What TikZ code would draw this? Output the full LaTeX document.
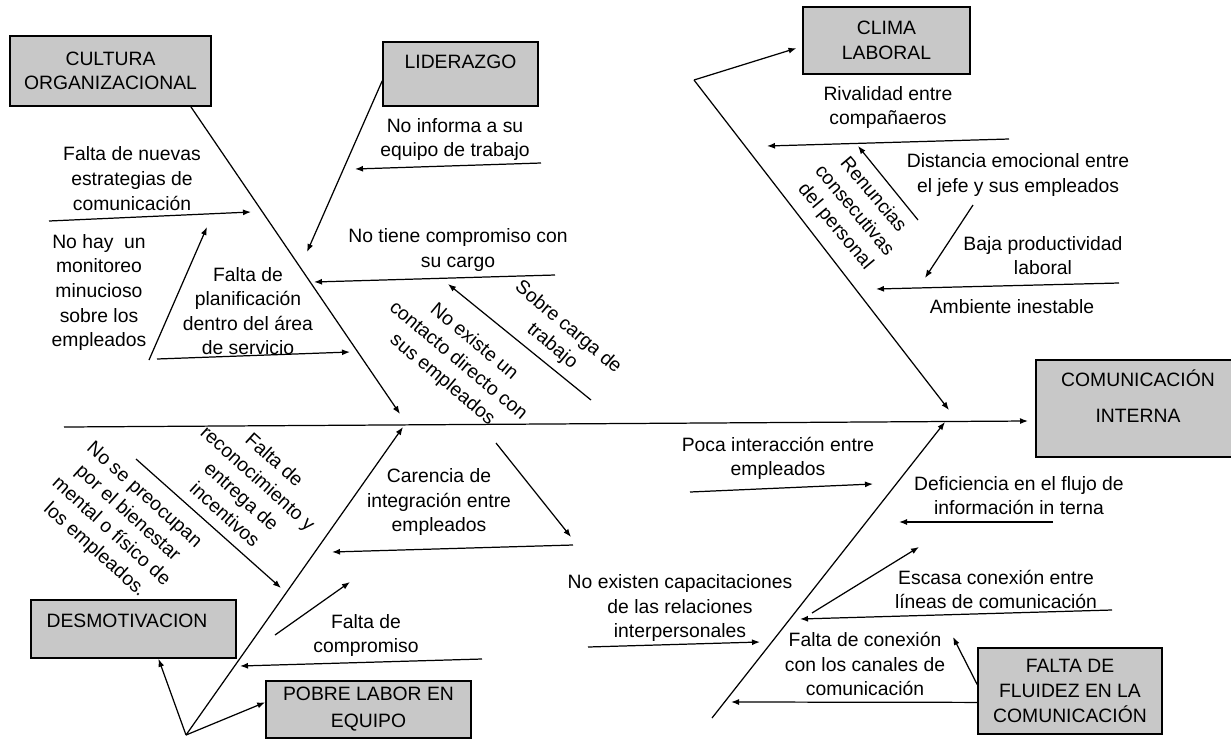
\documentclass[tikz,border=0pt]{standalone}
\usepackage{fontspec}
\setmainfont{Liberation Sans}
\usetikzlibrary{arrows.meta}
\definecolor{boxgray}{RGB}{200,200,200}

\begin{document}
\begin{tikzpicture}[
  x=0.2mm,
  y=-0.2mm,
  every node/.style={
    inner sep=0pt,
    align=center,
    font=\fontsize{11}{14}\selectfont
  },
  box/.style={
    draw,
    fill=boxgray,
    line width=0.9pt
  },
  every path/.style={
    -{Latex[length=1.6mm,width=1.2mm]},
    line width=0.7pt
  }
]
  \useasboundingbox (0,0) rectangle (1231,738);

  \node[box, minimum width=40.2mm, minimum height=14mm] (cultura) at (110.5,71) {CULTURA\\ORGANIZACIONAL};
  \node[box, minimum width=31mm, minimum height=12.8mm] (lider) at (460.5,74) {LIDERAZGO\\~};
  \node[box, minimum width=33.4mm, minimum height=13.4mm] (clima) at (886.5,40.5) {CLIMA\\LABORAL};
  \node[box, minimum width=40.8mm, minimum height=19.4mm] (comunic) at (1138,408.5) {COMUNICACIÓN\\[6.6pt]INTERNA\\~};
  \node[box, minimum width=41mm, minimum height=11.6mm] (desmot) at (133.5,629) {DESMOTIVACION\kern 2.6mm\\[-5pt]~};
  \node[box, minimum width=41mm, minimum height=11.4mm] (pobre) at (368.5,709.5) {POBRE LABOR EN\\[1.4pt]EQUIPO};
  \node[box, minimum width=36.8mm, minimum height=17.2mm] (falta) at (1070,691) {FALTA DE\\FLUIDEZ EN LA\\COMUNICACIÓN};

  \node (nuevas) at (132,178.5) {Falta de nuevas\\estrategias de\\comunicación};
  \node (monitoreo) at (99,292.5) {No hay\ \ un\\monitoreo\\minucioso\\sobre los\\empleados};
  \node (planif) at (248,311) {Falta de\\planificación\\dentro del área\\de servicio};
  \node (informa) at (455,139.5) {No informa a su\\equipo de trabajo};
  \node (comprom) at (458,250) {No tiene compromiso con\\su cargo};
  \node[rotate=-40] (sobrecarga) at (560,337) {Sobre carga de\\trabajo};
  \node[rotate=-40] (contacto) at (458,361) {No existe un\\contacto directo con\\sus empleados};
  \node (rival) at (888,107.5) {Rivalidad entre\\compañaeros};
  \node[rotate=-50] (renuncias) at (854,211) {Renuncias\\consecutivas\\del personal};
  \node (distancia) at (1018,175) {Distancia emocional entre\\el jefe y sus empleados};
  \node (baja) at (1043,255.5) {Baja productividad\\laboral};
  \node (ambiente) at (1012,307) {Ambiente inestable};
  \node[rotate=-42] (bienestar) at (119,523) {No se preocupan\\por el bienestar\\mental o físico de\\los empleados.};
  \node[rotate=-42] (reconoc) at (250,487) {Falta de\\reconocimiento y\\entrega de\\incentivos};
  \node (carencia) at (439,502) {Carencia de\\integración entre\\empleados};
  \node (faltacomp) at (366,635.5) {Falta de\\compromiso};
  \node (poca) at (778,458.5) {Poca interacción entre\\empleados};
  \node (deficiencia) at (1019,495.5) {Deficiencia en el flujo de\\información in terna};
  \node (escasa) at (996,589.5) {Escasa conexión entre\\líneas de comunicación};
  \node (capacit) at (680,608) {No existen capacitaciones\\de las relaciones\\interpersonales};
  \node (conexion) at (865,664) {Falta de conexión\\con los canales de\\comunicación};

  \coordinate (sp0) at (64,427);
  \coordinate (sp1) at (1028,421);
  \coordinate (c1) at (400,414);
  \coordinate (l1) at (307,252);
  \coordinate (k0) at (694,80);
  \coordinate (k1) at (949,410);
  \coordinate (d0) at (186,735);
  \coordinate (d1) at (403,427);
  \coordinate (f0) at (712,718);
  \coordinate (f1) at (945,422);
  \coordinate (fz1) at (953,637);
  \coordinate (fz2) at (731,702);

  \draw (sp0) -- (sp1);
  \draw (cultura.-24) -- (c1);
  \draw (lider.185) -- (l1);
  \draw[shorten >=1.2mm] (k0) -- (clima.184);
  \draw (k0) -- (k1);
  \draw (d0) -- (d1);
  \draw (d0) -- (desmot.-50);
  \draw (d0) -- (pobre.176);
  \draw (f0) -- (f1);
  \draw (falta.176) -- (fz1);
  \draw (falta.187) -- (fz2);

  \coordinate (n1) at (49,221);
  \coordinate (n2) at (251,212);
  \coordinate (m1) at (149,360);
  \coordinate (m2) at (207,227);
  \coordinate (p1) at (157,359);
  \coordinate (p2) at (350,352);
  \coordinate (i1) at (541,163);
  \coordinate (i2) at (355,169);
  \coordinate (t1) at (555,275);
  \coordinate (t2) at (314,282);
  \coordinate (s1) at (591,400);
  \coordinate (s2) at (448,284);
  \coordinate (e1) at (496,443);
  \coordinate (e2) at (571,537);
  \coordinate (g1) at (573,545);
  \coordinate (g2) at (332,552);
  \coordinate (b1) at (136,459);
  \coordinate (b2) at (281,588);
  \coordinate (q1) at (275,635);
  \coordinate (q2) at (350,582);
  \coordinate (q3) at (482,659);
  \coordinate (q4) at (240,666);

  \coordinate (v1) at (1009,139);
  \coordinate (v2) at (767,146);
  \coordinate (u1) at (918,220);
  \coordinate (u2) at (858,146);
  \coordinate (j1) at (973,205);
  \coordinate (j2) at (925,278);
  \coordinate (w1) at (1119,283);
  \coordinate (w2) at (876,289);
  \coordinate (o1) at (690,492);
  \coordinate (o2) at (873,484);
  \coordinate (y1) at (1053,522);
  \coordinate (y2) at (899,522);
  \coordinate (z1) at (812,613);
  \coordinate (z2) at (919,547);
  \coordinate (z3) at (1112,610);
  \coordinate (z4) at (800,619);
  \coordinate (x1) at (588,647);
  \coordinate (x2) at (760,642);

  \draw (n1) -- (n2);
  \draw (m1) -- (m2);
  \draw (p1) -- (p2);
  \draw (i1) -- (i2);
  \draw (t1) -- (t2);
  \draw (s1) -- (s2);
  \draw (e1) -- (e2);
  \draw (g1) -- (g2);
  \draw (b1) -- (b2);
  \draw (q1) -- (q2);
  \draw (q3) -- (q4);
  \draw (v1) -- (v2);
  \draw (u1) -- (u2);
  \draw (j1) -- (j2);
  \draw (w1) -- (w2);
  \draw (o1) -- (o2);
  \draw (y1) -- (y2);
  \draw (z1) -- (z2);
  \draw (z3) -- (z4);
  \draw (x1) -- (x2);
\end{tikzpicture}
\end{document}
